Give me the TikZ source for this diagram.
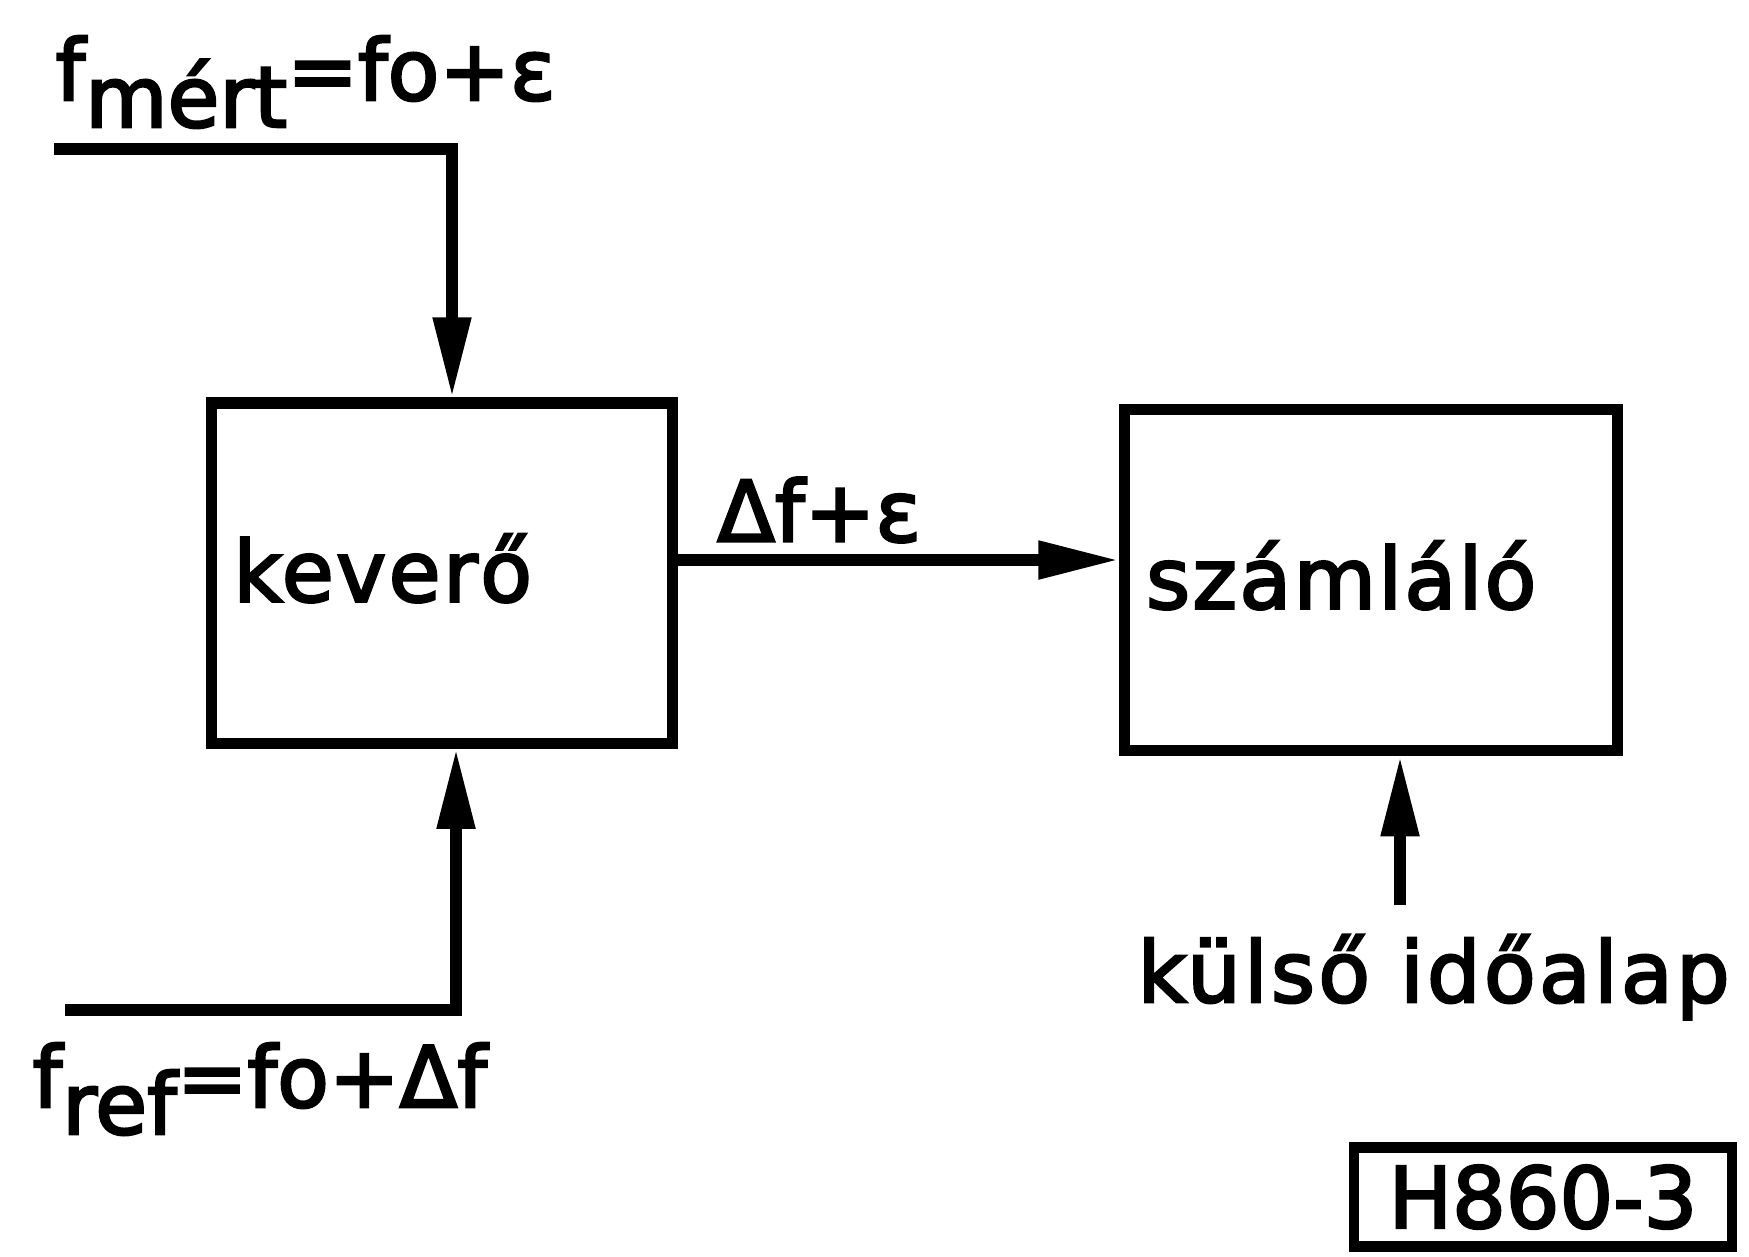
\documentclass[tikz,border=0pt]{standalone}
\usepackage{fontspec}
\setmainfont{DejaVu Sans}[FakeBold=3]
\usetikzlibrary{positioning, arrows.meta}
\newcommand{\lowsub}[1]{\raisebox{-0.32em}{#1}}

\begin{document}
\begin{tikzpicture}[x=0.01cm, y=-0.01cm, font=\fontsize{24}{28}\selectfont,
    line width=3.2pt, >={Triangle[length=8mm,width=3.6mm]},
    block/.style={draw, align=left, inner xsep=0.22cm, text depth=0.3em,
      font=\fontsize{24}{28}\selectfont\addfontfeatures{LetterSpace=3}},
    label/.style={anchor=base west, inner sep=0pt}]
    \useasboundingbox (0,0) rectangle (1749,1256);
    \node[block, text width=4.17cm, minimum height=3.40cm] (mix) at (442,573) {keverő};
    \node[block, text width=4.49cm, minimum height=3.41cm, right=4.40cm of mix,
          yshift=-0.07cm] (count) {számláló};
    \coordinate (mertin) at (54,149);
    \coordinate (refin) at (65,1010);
    \coordinate (clk) at (1400,905);
    \draw[->] (mertin) -| ([xshift=0.1cm]mix.north);
    \draw[->] (refin) -| ([xshift=0.14cm]mix.south);
    \draw[->] ([yshift=0.13cm]mix.east) -- node[above, pos=0.32] (dfe) {Δf+ε}
      ([yshift=0.13cm]mix.east -| count.west);
    \draw[->] (clk) -- (clk |- count.south);
    \node[label] (mert) at (50,100) {f\lowsub{mért}=fo+ε};
    \node[label] (ref) at (27,1107) {f\lowsub{ref}=fo+Δf};
    \node[label, font=\fontsize{24}{28}\selectfont\addfontfeatures{LetterSpace=4}] (ext)
      at (1132,1002) {külső időalap};
    \node[draw, line width=3pt, minimum width=3.78cm, minimum height=0.99cm] (figno)
      at (1543,1197) {H860-3};
  \end{tikzpicture}
\end{document}
